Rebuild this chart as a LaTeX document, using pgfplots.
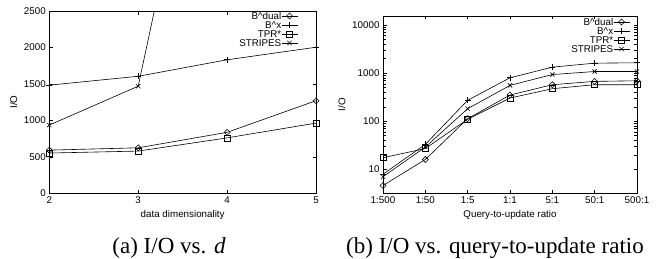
\documentclass[border=0pt]{standalone}
\usepackage{pgfplots}
\pgfplotsset{compat=1.18}
\usepackage{fontspec}
\setmainfont{Liberation Serif}
\setsansfont{Liberation Sans}
\newcommand{\tickfont}{\sffamily\fontsize{9.8}{11}\selectfont}
\pgfplotsset{gp/.style={
  scale only axis,
  axis line style={black, line width=0.5pt},
  tick style={black, line width=0.4pt},
  major tick length=3.5pt,
  tick align=inside,
  ticklabel style={font=\tickfont},
  label style={font=\tickfont},
  /pgf/number format/assume math mode=true,
  /pgf/number format/set thousands separator={},
  every axis plot/.append style={black, line width=0.6pt},
  mark size=3pt,
  legend style={draw=none, fill=none, font=\tickfont, row sep=1.5pt, inner sep=0pt,
    nodes={inner sep=0pt, text height=7pt, text depth=0.5pt},
    /tikz/every even column/.append style={column sep=3pt}},
  legend cell align=right,
  legend plot pos=right,
  legend image code/.code={\draw[mark repeat=2, mark phase=2] plot coordinates {(0pt,0pt) (8pt,0pt) (16pt,0pt)};},
}}
\begin{document}
\begin{tikzpicture}
\useasboundingbox (0pt,0pt) rectangle (661pt,-259pt);
\begin{axis}[gp,
  at={(49.3pt,-193.3pt)}, anchor=south west,
  width=266.7pt, height=182.3pt,
  xmin=2, xmax=5, ymin=0, ymax=2500,
  xtick={2,3,4,5}, ytick={0,500,1000,1500,2000,2500},
  xlabel={data dimensionality}, ylabel={I/O},
  legend style={at={(1,1)}, anchor=north east, xshift=-18pt, yshift=-1pt},
]
\addplot[mark=diamond, mark options={xscale=1.33}] coordinates {(2,592) (3,624) (4,836) (5,1270)};
\addlegendentry{B\textasciicircum dual}
\addplot[mark=+] coordinates {(2,1483) (3,1605) (4,1831) (5,2003)};
\addlegendentry{B\textasciicircum x}
\addplot[mark=square] coordinates {(2,552) (3,579) (4,760) (5,963)};
\addlegendentry{TPR*}
\addplot[mark=x] coordinates {(2,936) (3,1469) (4,7150) (5,9000)};
\addlegendentry{STRIPES}
\end{axis}
\begin{axis}[gp,
  at={(383pt,-193.3pt)}, anchor=south west,
  width=254pt, height=177.3pt,
  ymode=log, xmin=0, xmax=6, ymin=3.17, ymax=15400,
  xtick={0,1,2,3,4,5,6},
  xticklabels={1:500,1:50,1:5,1:1,5:1,50:1,500:1},
  ytick={10,100,1000,10000}, yticklabels={10,100,1000,10000},
  minor ytick={},
  xlabel={Query-to-update ratio}, ylabel={I/O},
  legend style={at={(1,1)}, anchor=north east, xshift=-7pt, yshift=-2pt},
]
\addplot[mark=diamond, mark options={xscale=1.33}] coordinates {(0,4.6) (1,16) (2,113) (3,350) (4,574) (5,673) (6,693)};
\addlegendentry{B\textasciicircum dual}
\addplot[mark=+] coordinates {(0,7.9) (1,33) (2,272) (3,800) (4,1330) (5,1610) (6,1640)};
\addlegendentry{B\textasciicircum x}
\addplot[mark=square] coordinates {(0,17.4) (1,27) (2,110) (3,303) (4,474) (5,574) (6,574)};
\addlegendentry{TPR*}
\addplot[mark=x] coordinates {(0,7) (1,29) (2,182) (3,556) (4,933) (5,1080) (6,1080)};
\addlegendentry{STRIPES}
\end{axis}
\node[font=\fontsize{23}{26}\selectfont, anchor=base] at (169pt,-253pt) {(a) I/O vs. \textit{d}};
\node[font=\fontsize{23}{26}\selectfont, anchor=base] at (495pt,-253pt) {(b) I/O vs. query-to-update ratio};
\end{tikzpicture}
\end{document}
